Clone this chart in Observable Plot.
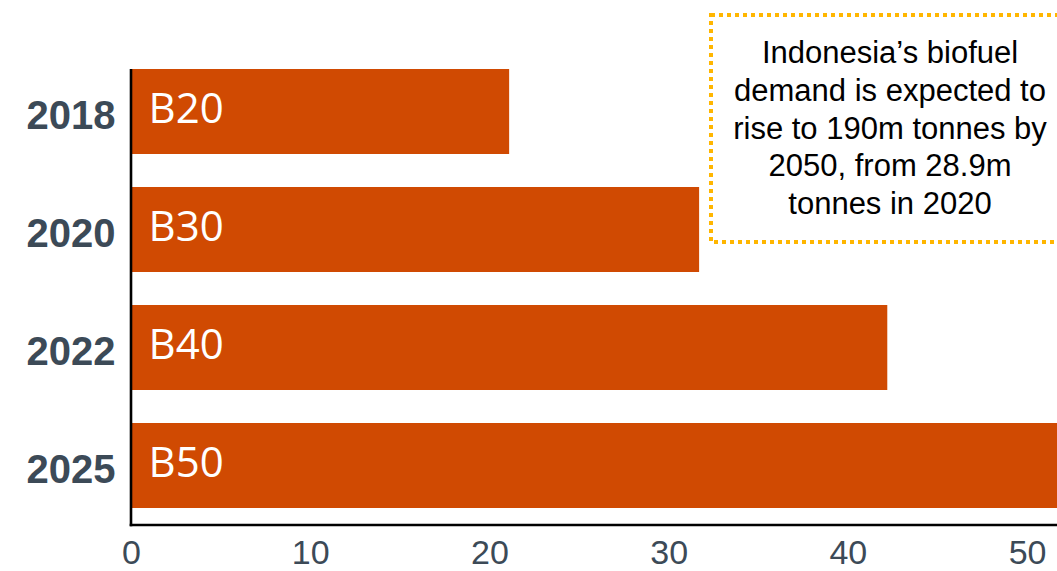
<!DOCTYPE html>
<html>
<head>
<meta charset="utf-8">
<script src="https://cdn.jsdelivr.net/npm/d3@7"></script>
<script src="https://cdn.jsdelivr.net/npm/@observablehq/plot@0.6"></script>
<style>
  html, body { margin: 0; padding: 0; background: #fff; overflow: hidden; }
  #wrap { position: relative; width: 1057px; height: 571px; overflow: hidden; }
  #note { position: absolute; left: 0; top: 0; }
  #noteText {
    position: absolute; left: 711px; top: 15px; width: 358px; height: 227px;
    display: flex; align-items: center; justify-content: center; text-align: center;
    font-family: "Liberation Sans", Arial, sans-serif; font-size: 31px; line-height: 37.8px; color: #000;
  }
</style>
</head>
<body>
<div id="wrap"></div>
<script>
const years = ["2018", "2020", "2022", "2025"];
const blends = ["B20", "B30", "B40", "B50"];
const values = [21.1, 31.7, 42.2, 53];
const xTicks = [0, 10, 20, 30, 40, 50];
const noteLines = [
  "Indonesia’s biofuel",
  "demand is expected to",
  "rise to 190m tonnes by",
  "2050, from 28.9m",
  "tonnes in 2020"
];

const data = years.map((y, i) => ({year: y, blend: blends[i], value: values[i]}));
const barColor = "#D04A02";
const axisColor = "#3c4a57";

function axisLines(index, scales, vals, dims) {
  const {width, height, marginBottom} = dims;
  const x0 = scales.x(0);
  const yb = height - marginBottom;
  const yt = scales.y(years[0]);
  const g = d3.create("svg:g").attr("stroke", "#000").attr("stroke-width", 2.6);
  g.append("line").attr("x1", x0).attr("x2", x0).attr("y1", yt).attr("y2", yb + 1.3);
  g.append("line").attr("x1", x0 - 1.3).attr("x2", width).attr("y1", yb).attr("y2", yb);
  return g.node();
}

const chart = Plot.plot({
  width: 1057,
  height: 571,
  marginLeft: 131,
  marginRight: 0,
  marginTop: 53,
  marginBottom: 46,
  style: {background: "#fff", overflow: "hidden"},
  x: {domain: [0, 51.67]},
  y: {domain: years, paddingInner: 0.277, paddingOuter: 0.126},
  marks: [
    Plot.barX(data, {x: "value", y: "year", fill: barColor, clip: true}),
    Plot.text(data, {
      x: 0, y: "year", text: "blend", textAnchor: "start", dx: 17, dy: -2,
      fill: "#fff", fontSize: 42, fontFamily: "'Open Sans', sans-serif"
    }),
    axisLines,
    Plot.axisX({
      ticks: xTicks, tickSize: 0, tickPadding: 14, label: null,
      fontSize: 34, fill: axisColor,
      fontFamily: "'Liberation Sans', Arial, sans-serif"
    }),
    Plot.axisY({
      tickSize: 0, tickPadding: 16, label: null, dy: 4,
      fontSize: 40, fontWeight: "bold", fill: axisColor,
      fontFamily: "'Liberation Sans', Arial, sans-serif"
    })
  ]
});

const wrap = document.getElementById("wrap");
wrap.appendChild(chart);

// annotation box
const box = d3.create("svg:svg").attr("id", "note").attr("width", 1057).attr("height", 571);
box.append("rect")
  .attr("x", 711).attr("y", 15).attr("width", 358).attr("height", 227)
  .attr("fill", "none").attr("stroke", "#FFB600").attr("stroke-width", 4)
  .attr("stroke-dasharray", "4 4");
wrap.appendChild(box.node());

const txt = document.createElement("div");
txt.id = "noteText";
txt.innerHTML = "<div>" + noteLines.join("<br>") + "</div>";
wrap.appendChild(txt);
</script>
</body>
</html>
